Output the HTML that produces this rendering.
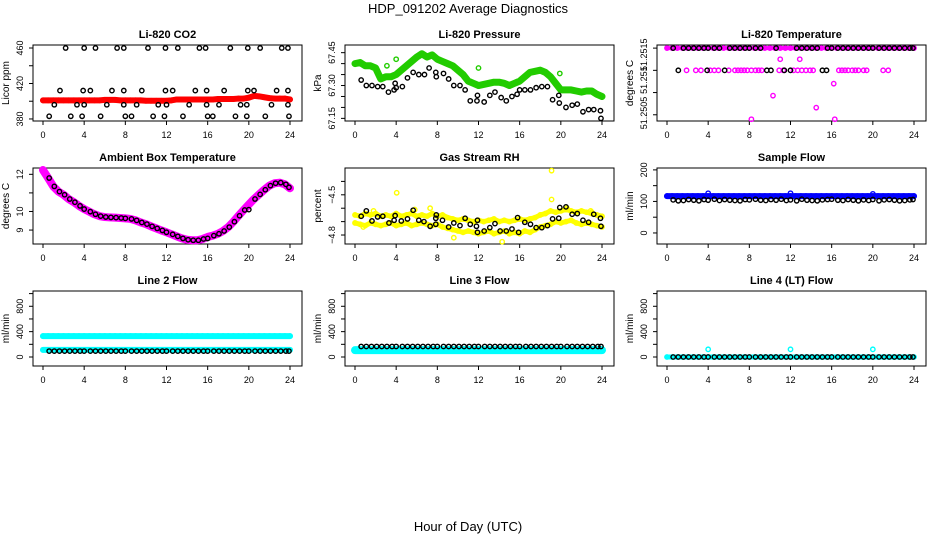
<!DOCTYPE html>
<html><head><meta charset="utf-8"><style>
body{margin:0;background:#fff}
svg{display:block;font-family:"Liberation Sans",sans-serif}
</style></head><body>
<svg id="c" width="936" height="540" viewBox="0 0 936 540" xmlns="http://www.w3.org/2000/svg">
<text x="468" y="13" text-anchor="middle" font-size="13">HDP_091202  Average Diagnostics</text>
<text x="468" y="531" text-anchor="middle" font-size="13">Hour of Day (UTC)</text>
</svg>
<script>
// ---- data ----
const halfHours=[0,0.5,1,1.5,2,2.5,3,3.5,4,4.5,5,5.5,6,6.5,7,7.5,8,8.5,9,9.5,10,10.5,11,11.5,12,12.5,13,13.5,14,14.5,15,15.5,16,16.5,17,17.5,18,18.5,19,19.5,20,20.5,21,21.5,22,22.5,23,23.5,24];
const blackHours=[0.6,1.1,1.6,2.1,2.6,3.1,3.6,4.0,4.6,5.1,5.6,6.1,6.6,7.1,7.6,8.0,8.6,9.1,9.6,10.1,10.6,11.1,11.6,12.0,12.6,13.1,13.6,14.1,14.6,15.1,15.6,16.0,16.6,17.1,17.6,18.1,18.6,19.1,19.6,20.0,20.6,21.1,21.6,22.1,22.6,23.1,23.6,23.9];
// CO2
const co2Red=[401,401,401,401,401,401,401,401,401,401,401,401,401.5,401.5,401.5,401,401,401,401,401,400.5,400.5,400.5,400.5,400.5,401,402,402,402,402,402,402,402,402,402.5,402.5,402.5,402.5,403,403,404,406,405.5,404.5,403.5,403,403,403,402];
const co2Hours=[2.2,4.0,5.1,7.2,7.85,10.2,11.9,13.1,15.2,15.8,18.2,19.9,21.1,23.2,23.8, 1.65,3.9,4.6,6.7,7.85,9.6,11.9,12.6,14.8,15.9,17.6,19.9,20.5,22.7,23.8, 1.1,3.3,4.0,6.2,7.85,9.1,11.2,12.0,14.2,15.9,17.1,19.2,19.8,22.2,23.8, 0.6,2.7,3.8,5.6,8.0,8.6,10.7,11.8,13.6,16.0,16.5,18.7,19.8,21.6,23.9];
const co2Values=[460,460,460,460,460,460,460,460,460,460,460,460,460,460,460, 412,412,412,412,412,412,412,412,412,412,412,412,412,412,412, 396,396,396,396,396,396,396,396,396,396,396,396,396,396,396, 383,383,383,383,383,383,383,383,383,383,383,383,383,383,383];
// Pressure
const presGreen=[67.40,67.405,67.39,67.39,67.38,67.33,67.34,67.34,67.35,67.37,67.39,67.41,67.43,67.445,67.43,67.44,67.42,67.41,67.40,67.39,67.37,67.35,67.32,67.31,67.30,67.305,67.31,67.315,67.315,67.31,67.30,67.31,67.32,67.34,67.36,67.365,67.37,67.36,67.34,67.31,67.28,67.28,67.28,67.275,67.27,67.275,67.275,67.26,67.25];
const presOutHours=[3.1,4.0,12.0,19.9];
const presOutValues=[67.39,67.42,67.38,67.355];
const presHours=[0.6,1.1,1.65,2.2,2.7,3.25,3.8,3.9,4.0,4.6,5.1,5.65,6.2,6.75,7.2,7.85,7.9,8.6,9.1,9.6,10.2,10.7,11.2,11.85,11.9,12.55,13.1,13.6,14.2,14.7,15.25,15.75,16.0,16.5,17.05,17.6,18.15,18.7,19.2,19.8,19.85,20.5,21.1,21.6,22.15,22.7,23.2,23.85,23.9];
const presValues=[67.325,67.30,67.30,67.295,67.295,67.27,67.28,67.31,67.29,67.295,67.335,67.36,67.35,67.35,67.38,67.36,67.34,67.355,67.33,67.30,67.30,67.28,67.23,67.23,67.255,67.225,67.255,67.27,67.245,67.23,67.25,67.26,67.28,67.28,67.28,67.29,67.295,67.295,67.235,67.255,67.22,67.20,67.21,67.215,67.18,67.19,67.19,67.185,67.15];
// Li-820 temperature
const tempTopMag=[51.252,51.252,51.252,51.252,51.252,51.252,51.252,51.252,51.252,51.252,51.252,51.252,51.252,51.252,51.252,51.252,51.252,51.252,51.252,51.252,51.252,51.252,51.252,51.252,51.252,51.252,51.252,51.252,51.252,51.252,51.252,51.252,51.252,51.252,51.252,51.252,51.252,51.252,51.252,51.252,51.252,51.252,51.252,51.252,51.252,51.252,51.252,51.252,51.252];
const tempMagHours=[1.9,2.8,3.3,4.2,4.6,5.0,6.0,6.6,6.9,7.2,7.5,7.8,8.2,8.6,8.9,9.2,10.9,11.3,12.3,12.7,13.1,13.5,13.9,14.2,16.7,17.0,17.3,17.6,18.0,18.3,18.6,19.1,19.4,21.0,21.5, 11.0,12.9,16.2,10.3,14.5,8.2,16.3];
const tempMagValues=[51.2515,51.2515,51.2515,51.2515,51.2515,51.2515,51.2515,51.2515,51.2515,51.2515,51.2515,51.2515,51.2515,51.2515,51.2515,51.2515,51.2515,51.2515,51.2515,51.2515,51.2515,51.2515,51.2515,51.2515,51.2515,51.2515,51.2515,51.2515,51.2515,51.2515,51.2515,51.2515,51.2515,51.2515,51.2515, 51.25175,51.25175,51.2512,51.25093,51.25066,51.2504,51.2504];
const tempBlackHours=[0.6,1.1,1.6,2.1,2.6,3.1,3.6,3.9,4.0,4.6,5.1,5.6,6.1,6.6,7.1,7.6,8.0,8.6,9.1,9.7,10.1,10.6,11.4,12.0,12.6,13.1,13.6,14.1,14.6,15.1,15.5,15.6,16.0,16.6,17.1,17.6,18.1,18.6,19.1,19.6,20.0,20.6,21.1,21.6,22.1,22.6,23.1,23.6,23.9];
const tempBlackValues=[51.252,51.2515,51.252,51.252,51.252,51.252,51.252,51.2515,51.252,51.252,51.252,51.2515,51.252,51.252,51.252,51.252,51.252,51.252,51.252,51.2515,51.2515,51.252,51.2515,51.2515,51.252,51.252,51.252,51.252,51.252,51.2515,51.2515,51.252,51.252,51.252,51.252,51.252,51.252,51.252,51.252,51.252,51.252,51.252,51.252,51.252,51.252,51.252,51.252,51.252,51.252];
// Ambient box temperature
const ambMag=[12.23,11.8,11.35,11.07,10.9,10.67,10.5,10.3,10.13,9.99,9.85,9.75,9.7,9.68,9.67,9.65,9.63,9.6,9.52,9.41,9.32,9.2,9.09,8.98,8.88,8.77,8.66,8.55,8.48,8.45,8.45,8.52,8.63,8.7,8.8,8.95,9.16,9.45,9.77,10.08,10.38,10.67,10.92,11.17,11.39,11.52,11.55,11.46,11.25];
const ambBlack=[11.8,11.35,11.07,10.9,10.67,10.5,10.3,10.13,9.99,9.85,9.75,9.7,9.68,9.67,9.65,9.63,9.6,9.52,9.41,9.32,9.2,9.09,8.98,8.88,8.77,8.66,8.55,8.48,8.45,8.45,8.52,8.55,8.7,8.8,8.95,9.16,9.45,9.77,10.08,10.1,10.67,10.92,11.17,11.39,11.52,11.55,11.46,11.3];
// Gas stream RH
const rhYellowHi=[-4.65,-4.66,-4.64,-4.65,-4.64,-4.66,-4.65,-4.66,-4.64,-4.66,-4.65,-4.64,-4.66,-4.65,-4.66,-4.64,-4.66,-4.65,-4.67,-4.68,-4.69,-4.68,-4.69,-4.70,-4.69,-4.70,-4.69,-4.68,-4.70,-4.69,-4.70,-4.69,-4.68,-4.69,-4.68,-4.67,-4.65,-4.64,-4.62,-4.63,-4.62,-4.61,-4.62,-4.63,-4.62,-4.63,-4.64,-4.65,-4.66];
const rhYellowLo=[-4.71,-4.72,-4.73,-4.71,-4.72,-4.73,-4.72,-4.71,-4.73,-4.72,-4.71,-4.73,-4.72,-4.71,-4.72,-4.73,-4.72,-4.74,-4.75,-4.76,-4.77,-4.78,-4.77,-4.78,-4.79,-4.78,-4.77,-4.79,-4.78,-4.77,-4.79,-4.78,-4.79,-4.77,-4.78,-4.76,-4.74,-4.73,-4.72,-4.70,-4.71,-4.70,-4.69,-4.71,-4.72,-4.71,-4.72,-4.73,-4.74];
const rhOutHours=[4.05,19.1,19.1,14.3,5.8,7.3,1.8,20.6,22.9,23.0,9.6,0.8];
const rhOutValues=[-4.485,-4.32,-4.535,-4.85,-4.61,-4.60,-4.62,-4.60,-4.62,-4.63,-4.82,-4.74];
const rhHours=[0.6,1.1,1.65,2.2,2.7,3.3,3.8,3.9,4.5,5.1,5.65,6.2,6.7,7.3,7.85,7.9,7.85,8.5,9.1,9.6,10.2,10.7,11.2,11.8,11.9,11.9,12.55,13.1,13.6,14.1,14.7,15.25,15.8,15.9,16.5,17.05,17.6,18.15,18.7,19.2,19.8,19.9,20.5,21.1,21.6,22.15,22.7,23.2,23.85,23.9];
const rhValues=[-4.66,-4.62,-4.695,-4.665,-4.66,-4.71,-4.69,-4.655,-4.695,-4.68,-4.615,-4.69,-4.70,-4.735,-4.675,-4.65,-4.72,-4.69,-4.74,-4.71,-4.73,-4.675,-4.72,-4.735,-4.78,-4.69,-4.77,-4.745,-4.715,-4.77,-4.77,-4.755,-4.67,-4.78,-4.705,-4.72,-4.745,-4.745,-4.73,-4.68,-4.675,-4.595,-4.59,-4.645,-4.64,-4.69,-4.705,-4.645,-4.675,-4.735];
// Sample flow
const sampleBlue=[117,117,117,117,117,117,117,117,117,117,117,117,117,117,117,117,117,117,117,117,117,117,117,117,117,117,117,117,117,117,117,117,117,117,117,117,117,117,117,117,117,117,117,117,117,117,117,117,117];
const sampleOutHours=[4.0,12.0,20.0];
const sampleOutValues=[126,126,124];
const sampleBlack=[105,102,103,106,104,102,106,104,107,103,106,104,103,102,106,105,107,104,103,106,104,107,103,105,102,107,104,103,102,105,106,107,104,103,106,104,102,105,103,106,102,105,106,104,102,103,105,106];
// Line flows
const line2CyanHi=[330,330,330,330,330,330,330,330,330,330,330,330,330,330,330,330,330,330,330,330,330,330,330,330,330,330,330,330,330,330,330,330,330,330,330,330,330,330,330,330,330,330,330,330,330,330,330,330,330];
const line2CyanLo=[112,112,112,112,112,112,112,112,112,112,112,112,112,112,112,112,112,112,112,112,112,112,112,112,112,112,112,112,112,112,112,112,112,112,112,112,112,112,112,112,112,112,112,112,112,112,112,112,112];
const line2Black=[93,93,93,93,93,93,93,93,93,93,93,93,93,93,93,93,93,93,93,93,93,93,93,93,93,93,93,93,93,93,93,93,93,93,93,93,93,93,93,93,93,93,93,93,93,93,93,93];
const line3Cyan=[108,108,108,108,108,108,108,108,108,108,108,108,108,108,108,108,108,108,108,108,108,108,108,108,108,108,108,108,108,108,108,108,108,108,108,108,108,108,108,108,108,108,108,108,108,108,108,108,108];
const line3Black=[166,166,166,166,166,166,166,166,166,166,166,166,166,166,166,166,166,166,166,166,166,166,166,166,166,166,166,166,166,166,166,166,166,166,166,166,166,166,166,166,166,166,166,166,166,166,166,166];
const line4Cyan=[0,0,0,0,0,0,0,0,0,0,0,0,0,0,0,0,0,0,0,0,0,0,0,0,0,0,0,0,0,0,0,0,0,0,0,0,0,0,0,0,0,0,0,0,0,0,0,0,0];
const line4OutHours=[4.0,12.0,20.0];
const line4OutValues=[121,121,121];
const line4Black=[0,0,0,0,0,0,0,0,0,0,0,0,0,0,0,0,0,0,0,0,0,0,0,0,0,0,0,0,0,0,0,0,0,0,0,0,0,0,0,0,0,0,0,0,0,0,0,0];
const xTicks=[0,4,8,12,16,20,24];

// ---- rendering ----
const svg=document.getElementById('c');
const NS='http://www.w3.org/2000/svg';
function mk(tag,attrs,parent){const e=document.createElementNS(NS,tag);for(const k in attrs)e.setAttribute(k,attrs[k]);(parent||svg).appendChild(e);return e;}
const cols=[33,345,657], rows=[[45,121],[168,244],[291,366]];
const panels=[
 {key:'co2',title:'Li-820 CO2',yl:'Licor ppm',c:0,r:0,ymax:463.4,ymin:377.7,ticks:[380,400,420,440,460],labels:[[380,'380'],[420,'420'],[460,'460']]},
 {key:'pres',title:'Li-820 Pressure',yl:'kPa',c:1,r:0,ymax:67.485,ymin:67.138,ticks:[67.15,67.2,67.25,67.3,67.35,67.4,67.45],labels:[[67.15,'67.15'],[67.3,'67.30'],[67.45,'67.45']]},
 {key:'temp',title:'Li-820 Temperature',yl:'degrees C',c:2,r:0,ymax:51.25207,ymin:51.25036,ticks:[51.2505,51.251,51.2515,51.252],labels:[[51.25054,'51.2505'],[51.25128,'51.251'],[51.25185,'51.2515']]},
 {key:'amb',title:'Ambient Box Temperature',yl:'degrees C',c:0,r:1,ymax:12.34,ymin:8.25,ticks:[9,10,11,12],labels:[[9,'9'],[10,'10'],[12,'12']]},
 {key:'rh',title:'Gas Stream RH',yl:'percent',c:1,r:1,ymax:-4.30,ymin:-4.867,ticks:[-4.8,-4.7,-4.6,-4.5,-4.4],labels:[[-4.8,'\u22124.8'],[-4.5,'\u22124.5']]},
 {key:'sample',title:'Sample Flow',yl:'ml/min',c:2,r:1,ymax:206,ymin:-35,ticks:[0,50,100,150,200],labels:[[0,'0'],[100,'100'],[200,'200']]},
 {key:'l2',title:'Line 2 Flow',yl:'ml/min',c:0,r:2,ymax:1041,ymin:-142,ticks:[0,200,400,600,800,1000],labels:[[0,'0'],[400,'400'],[800,'800']]},
 {key:'l3',title:'Line 3 Flow',yl:'ml/min',c:1,r:2,ymax:1041,ymin:-142,ticks:[0,200,400,600,800,1000],labels:[[0,'0'],[400,'400'],[800,'800']]},
 {key:'l4',title:'Line 4 (LT) Flow',yl:'ml/min',c:2,r:2,ymax:1041,ymin:-142,ticks:[0,200,400,600,800,1000],labels:[[0,'0'],[400,'400'],[800,'800']]}
];
const P={};
panels.forEach(p=>{
 const L=cols[p.c],R=L+269,T=rows[p.r][0],B=rows[p.r][1];
 const g=mk('g',{});
 
 
 p.g=g;p.x=h=>L+10+h*(247/24);p.y=v=>T+(p.ymax-v)/(p.ymax-p.ymin)*(B-T);
 const box=mk('rect',{x:L,y:T,width:R-L,height:B-T,fill:'none',stroke:'#000','stroke-width':1},g);
 
 
 const t=mk('text',{x:(L+R)/2,y:T-7,'text-anchor':'middle','font-size':11,'font-weight':'bold'},g);t.textContent=p.title;
 
 
 xTicks.forEach(h=>{const x=p.x(h);mk('line',{x1:x,x2:x,y1:B,y2:B+4,stroke:'#000'},g);
  const tl=mk('text',{x:x,y:B+17,'text-anchor':'middle','font-size':9},g);tl.textContent=h;
  
  });
 p.ticks.forEach(v=>{const y=p.y(v);mk('line',{x1:L-4,x2:L,y1:y,y2:y,stroke:'#000'},g);});
 p.labels.forEach(([v,s])=>{const y=p.y(v);const tl=mk('text',{x:0,y:0,'text-anchor':'middle','font-size':9,transform:`translate(${L-10},${y}) rotate(-90)`},g);tl.textContent=s;
  
  });
 const yl=mk('text',{x:0,y:0,'text-anchor':'middle','font-size':10,transform:`translate(${L-24},${(T+B)/2}) rotate(-90)`},g);yl.textContent=p.yl;
 
 
 P[p.key]=p;
});
function band(p,hs,vs,color,w,name){
 const pts=hs.map((h,i)=>p.x(h)+','+p.y(vs[i])).join(' ');
 const pl=mk('polyline',{points:pts,fill:'none',stroke:color,'stroke-width':w,'stroke-linejoin':'round','stroke-linecap':'round'},p.g);
 
 
 pts1(p,hs,vs,color,name);
}
function pts1(p,hs,vs,color,name){
 hs.forEach((h,i)=>{const c=mk('circle',{cx:p.x(h),cy:p.y(vs[i]),r:2.2,fill:'none',stroke:color,'stroke-width':1.4},p.g);
  
  });
}
band(P.co2,halfHours,co2Red,'#ff0000',6,'co2-red');
pts1(P.co2,co2Hours,co2Values,'#000','co2-black');
band(P.pres,halfHours,presGreen,'#22cc00',7,'pressure-green');
pts1(P.pres,presOutHours,presOutValues,'#22cc00','pressure-green-outlier');
pts1(P.pres,presHours,presValues,'#000','pressure-black');
band(P.temp,halfHours,tempTopMag,'#ff00ff',4,'temp-magenta');
pts1(P.temp,tempMagHours,tempMagValues,'#ff00ff','temp-magenta');
pts1(P.temp,tempBlackHours,tempBlackValues,'#000','temp-black');
band(P.amb,halfHours,ambMag,'#ff00ff',8,'ambient-magenta');
pts1(P.amb,blackHours,ambBlack,'#000','ambient-black');
band(P.rh,halfHours,rhYellowHi,'#ffff00',5,'rh-yellow-hi');
band(P.rh,halfHours,rhYellowLo,'#ffff00',5,'rh-yellow-lo');
pts1(P.rh,rhOutHours,rhOutValues,'#ffff00','rh-yellow-outlier');
pts1(P.rh,rhHours,rhValues,'#000','rh-black');
band(P.sample,halfHours,sampleBlue,'#0000ff',6,'sample-blue');
pts1(P.sample,sampleOutHours,sampleOutValues,'#0000ff','sample-blue-outlier');
pts1(P.sample,blackHours,sampleBlack,'#000','sample-black');
band(P.l2,halfHours,line2CyanHi,'#00ffff',6,'line2-cyan-hi');
band(P.l2,halfHours,line2CyanLo,'#00ffff',6,'line2-cyan-lo');
pts1(P.l2,blackHours,line2Black,'#000','line2-black');
band(P.l3,halfHours,line3Cyan,'#00ffff',8,'line3-cyan');
pts1(P.l3,blackHours,line3Black,'#000','line3-black');
band(P.l4,halfHours,line4Cyan,'#00ffff',5,'line4-cyan');
pts1(P.l4,line4OutHours,line4OutValues,'#00ffff','line4-cyan-outlier');
pts1(P.l4,blackHours,line4Black,'#000','line4-black');
</script>
</body></html>
